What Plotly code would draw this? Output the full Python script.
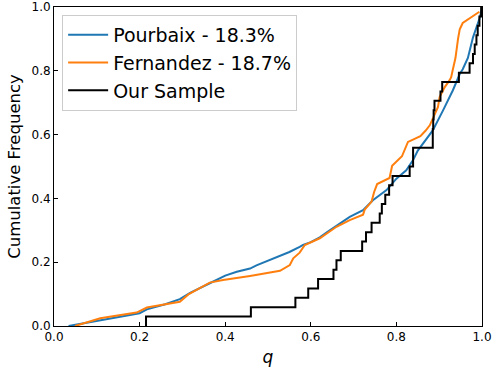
import plotly.graph_objects as go

# Pourbaix cumulative distribution (q, F)
pourbaix_q = [0.034, 0.06, 0.10, 0.15, 0.20, 0.217, 0.26, 0.294, 0.318, 0.364, 0.40,
              0.427, 0.458, 0.473, 0.50, 0.535, 0.55, 0.574, 0.582, 0.60, 0.621, 0.64,
              0.66, 0.691, 0.722, 0.745, 0.777, 0.80, 0.823, 0.839, 0.85, 0.885, 0.909,
              0.932, 0.948, 0.955, 0.967, 0.979, 0.994, 0.999]
pourbaix_f = [0.0, 0.006, 0.016, 0.028, 0.040, 0.052, 0.068, 0.084, 0.104, 0.134, 0.158,
              0.170, 0.180, 0.190, 0.205, 0.224, 0.232, 0.248, 0.254, 0.263, 0.278, 0.296,
              0.313, 0.342, 0.363, 0.394, 0.426, 0.462, 0.488, 0.520, 0.550, 0.613, 0.676,
              0.739, 0.790, 0.805, 0.840, 0.905, 0.963, 0.990]

# Fernandez cumulative distribution (q, F)
fernandez_q = [0.049, 0.108, 0.193, 0.217, 0.294, 0.314, 0.364, 0.395, 0.458, 0.528,
               0.551, 0.559, 0.574, 0.586, 0.621, 0.66, 0.691, 0.722, 0.726, 0.742,
               0.748, 0.755, 0.784, 0.79, 0.813, 0.827, 0.835, 0.856, 0.868, 0.878,
               0.885, 0.897, 0.901, 0.913, 0.924, 0.928, 0.932, 0.938, 0.944, 0.948,
               0.955, 0.994]
fernandez_f = [0.0, 0.024, 0.042, 0.058, 0.076, 0.099, 0.136, 0.144, 0.157, 0.173,
               0.191, 0.212, 0.230, 0.254, 0.275, 0.311, 0.332, 0.349, 0.365, 0.390,
               0.420, 0.445, 0.464, 0.502, 0.532, 0.577, 0.582, 0.595, 0.612, 0.629,
               0.650, 0.686, 0.718, 0.749, 0.770, 0.780, 0.805, 0.840, 0.900, 0.930,
               0.950, 0.985]

# Our sample: sorted q values (34 objects)
sample_q = [0.215, 0.46, 0.564, 0.594, 0.617, 0.653, 0.66, 0.670, 0.72, 0.729,
            0.742, 0.761, 0.766, 0.774, 0.783, 0.791, 0.831, 0.839, 0.839, 0.885,
            0.885, 0.886, 0.887, 0.889, 0.903, 0.907, 0.946, 0.971, 0.979, 0.983,
            0.987, 0.990, 0.994, 0.998]

n = len(sample_q)
step_x = [sample_q[0]] + sample_q
step_y = [0.0] + [(i + 1) / n for i in range(n)]

fig = go.Figure()
fig.add_trace(go.Scatter(x=pourbaix_q, y=pourbaix_f, mode="lines",
                         name="Pourbaix - 18.3%",
                         line=dict(color="#1f77b4", width=2)))
fig.add_trace(go.Scatter(x=fernandez_q, y=fernandez_f, mode="lines",
                         name="Fernandez - 18.7%",
                         line=dict(color="#ff7f0e", width=2)))
fig.add_trace(go.Scatter(x=step_x, y=step_y, mode="lines", line_shape="hv",
                         name="Our Sample",
                         line=dict(color="black", width=2)))

axis_common = dict(
    range=[0, 1], dtick=0.2, tickformat=".1f", showgrid=False, zeroline=False,
    showline=True, linecolor="black", linewidth=1, mirror=True,
    ticks="inside", ticklen=4, tickcolor="black", automargin=False,
    tickfont=dict(family="DejaVu Sans", size=12, color="black"),
)

fig.update_layout(
    width=492, height=371,
    margin=dict(l=54, r=10, t=7, b=45),
    paper_bgcolor="white", plot_bgcolor="white",
    font=dict(family="DejaVu Sans", color="black"),
    xaxis=dict(axis_common, title=dict(text="<i>q</i>", font=dict(size=17), standoff=7)),
    yaxis=dict(axis_common, title=dict(text="Cumulative Frequency", font=dict(size=16.5), standoff=6)),
    legend=dict(x=0.019, y=0.975, xanchor="left", yanchor="top",
                font=dict(family="DejaVu Sans", size=19, color="black"),
                bgcolor="rgba(255,255,255,0.8)", bordercolor="#cccccc", borderwidth=1,
                itemwidth=40, tracegroupgap=0),
    showlegend=True,
)

fig.write_html("out.html")
